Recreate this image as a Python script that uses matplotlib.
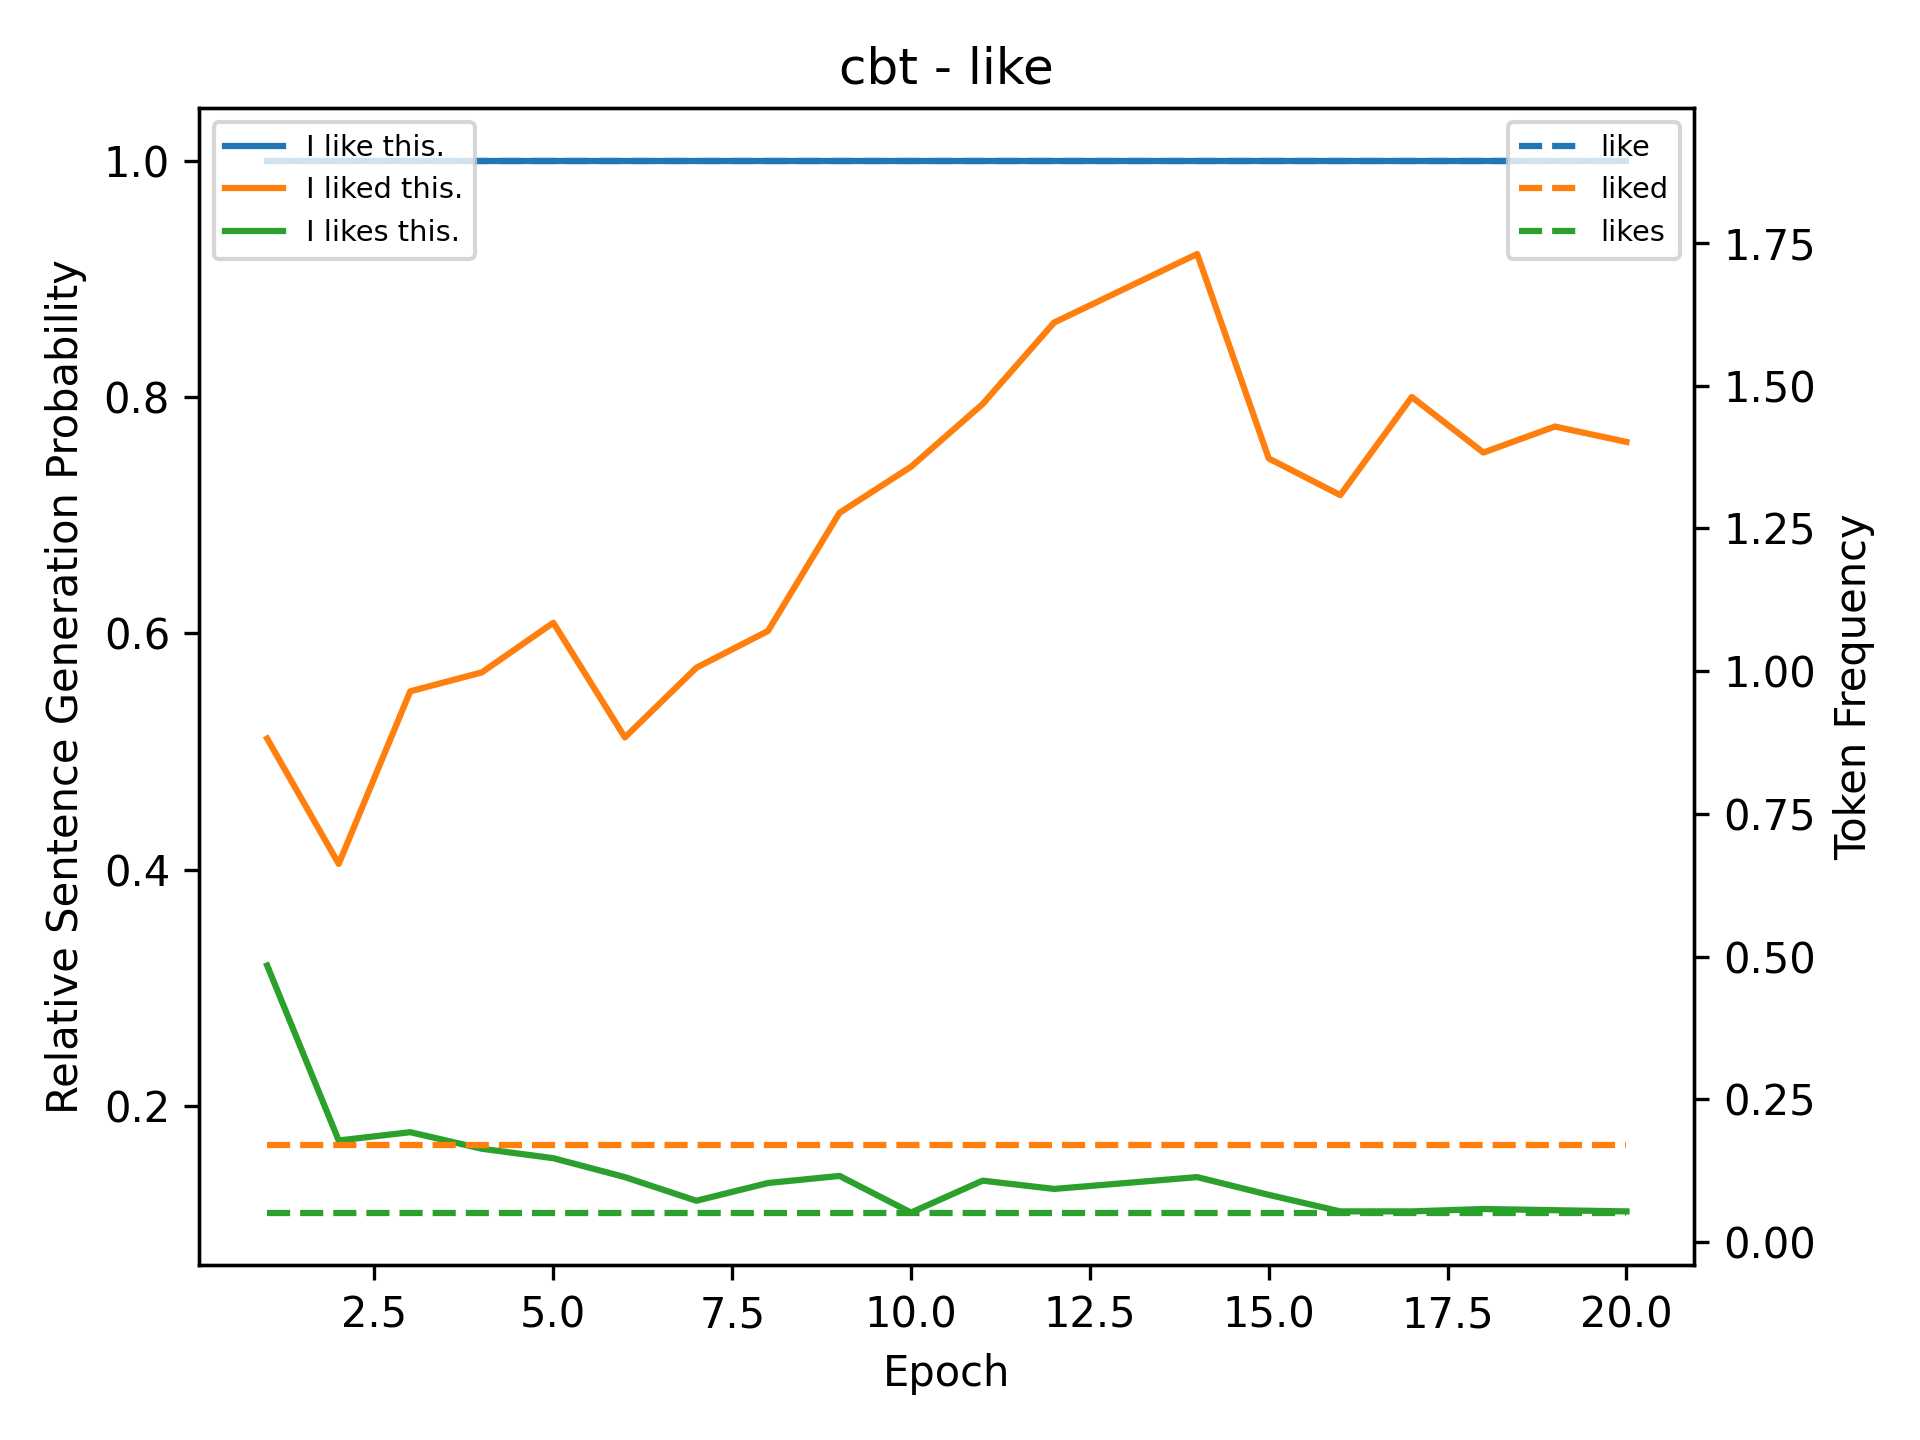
import matplotlib
matplotlib.use("Agg")
import matplotlib.pyplot as plt
import numpy as np

epochs = list(range(1, 21))
sentences = ["I like this.", "I liked this.", "I likes this."]
prob_like = [1.0] * 20
prob_liked = [0.511, 0.405, 0.551, 0.567, 0.609, 0.512, 0.571, 0.602, 0.702, 0.741,
              0.794, 0.863, 0.892, 0.921, 0.748, 0.717, 0.800, 0.753, 0.775, 0.762]
prob_likes = [0.319, 0.171, 0.178, 0.164, 0.156, 0.140, 0.120, 0.135, 0.141, 0.110,
              0.137, 0.130, 0.135, 0.140, 0.125, 0.111, 0.111, 0.113, 0.112, 0.111]
tokens = ["like", "liked", "likes"]
token_freq = [1.894, 0.170, 0.0516]

colors = ["#1f77b4", "#ff7f0e", "#2ca02c"]

fig, ax = plt.subplots(figsize=(6.4, 4.8), dpi=300)
ax2 = ax.twinx()

h1 = []
for lab, vals, c in zip(sentences, [prob_like, prob_liked, prob_likes], colors):
    (ln,) = ax.plot(epochs, vals, color=c, label=lab)
    h1.append(ln)

h2 = []
for lab, f, c in zip(tokens, token_freq, colors):
    (ln,) = ax2.plot(epochs, [f] * len(epochs), color=c, linestyle="--", label=lab)
    h2.append(ln)

ax.set_xlabel("Epoch")
ax.set_ylabel("Relative Sentence Generation Probability")
ax2.set_ylabel("Token Frequency")
ax.set_title("cbt - like")

leg1 = ax2.legend(handles=h1, loc="upper left", fontsize="x-small")
ax2.add_artist(leg1)
ax2.legend(handles=h2, loc="upper right", fontsize="x-small")

fig.tight_layout()
fig.savefig("out.png", dpi=300)
